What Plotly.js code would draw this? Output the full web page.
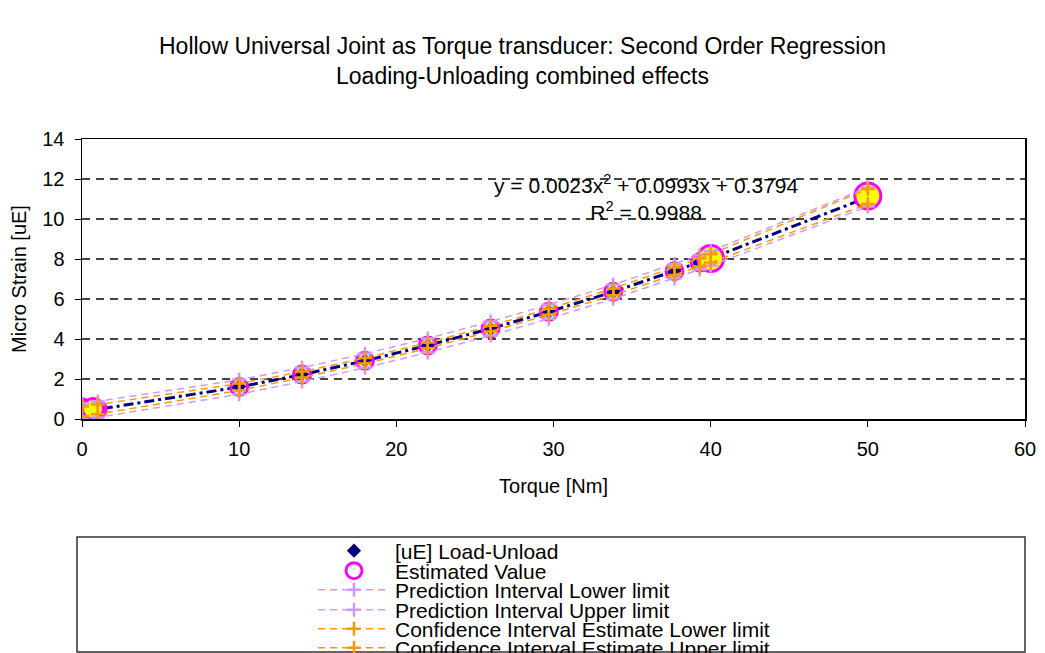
<!DOCTYPE html>
<html>
<head>
<meta charset="utf-8">
<script src="https://cdn.plot.ly/plotly-3.0.1.min.js"></script>
<style>html,body{margin:0;padding:0;background:#fff;}#chart{width:1045px;height:653px;}</style>
</head>
<body>
<div id="chart"></div>
<script>
// Torque [Nm]
const torque = [0, 1.0, 10, 14, 18, 22, 26, 29.7, 33.8, 37.7, 39.3, 40, 50];
// [uE] Load-Unload (measured)
const strain = [0.40, 0.47, 1.62, 2.24, 2.92, 3.68, 4.50, 5.36, 6.35, 7.38, 7.85, 8.02, 11.15];
// Estimated Value
const estimated = [0.38, 0.48, 1.60, 2.22, 2.91, 3.68, 4.52, 5.36, 6.36, 7.39, 7.83, 8.03, 11.09];
// Prediction interval
const piLower = [-0.02, 0.08, 1.24, 1.87, 2.56, 3.33, 4.17, 5.01, 6.01, 7.03, 7.47, 7.67, 10.62];
const piUpper = [0.78, 0.88, 1.96, 2.57, 3.26, 4.03, 4.87, 5.71, 6.71, 7.75, 8.19, 8.39, 11.58];
// Confidence interval estimate
const ciLower = [0.13, 0.24, 1.43, 2.07, 2.77, 3.54, 4.38, 5.21, 6.19, 7.20, 7.63, 7.82, 10.75];
const ciUpper = [0.63, 0.72, 1.77, 2.37, 3.05, 3.82, 4.66, 5.51, 6.53, 7.58, 8.03, 8.24, 11.50];
// highlighted points (yellow)
const hlSmallX = [0, 0.7];
const hlSmallY = [0.48, 0.5];
const hlBigX = [40, 50];
const hlBigY = [8.02, 11.15];

const names = ['[uE] Load-Unload', 'Estimated Value', 'Prediction Interval Lower limit',
  'Prediction Interval Upper limit', 'Confidence Interval Estimate Lower limit',
  'Confidence Interval Estimate Upper limit'];
const titleText = 'Hollow Universal Joint as Torque transducer: Second Order Regression<br>Loading-Unloading combined effects';
const eqText = 'y = 0.0023x<sup>2</sup> + 0.0993x + 0.3794<br>R<sup>2</sup> = 0.9988';

const FONT = 'Liberation Sans, Arial, sans-serif';
const PURPLE = '#CC99FF';
const ORANGE = '#FF9900';

const crossPI = {symbol: 'cross-thin', size: 10, line: {color: PURPLE, width: 2.5}, color: PURPLE};
const crossCI = {symbol: 'cross-thin', size: 10, line: {color: ORANGE, width: 2.5}, color: ORANGE};

const traces = [
  {x: torque, y: estimated, mode: 'lines', line: {color: '#000080', width: 3, dash: '10px,4px,3px,4px'}, showlegend: false, hoverinfo: 'skip'},
  {x: torque, y: strain, mode: 'markers', name: names[0], legend: 'legend',
    marker: {symbol: 'diamond', size: 11, color: '#000080'}},
  {x: torque, y: estimated, mode: 'markers', name: names[1], legend: 'legend2',
    marker: {symbol: 'circle-open', size: 17, color: '#FF00FF', line: {width: 3}}},
  {x: hlSmallX, y: hlSmallY, mode: 'markers', showlegend: false, hoverinfo: 'skip',
    marker: {symbol: 'circle', size: 21, color: '#FFFF00', line: {color: '#FF00FF', width: 3}}},
  {x: hlBigX, y: hlBigY, mode: 'markers', showlegend: false, hoverinfo: 'skip',
    marker: {symbol: 'circle', size: 26, color: '#FFFF00', line: {color: '#FF00FF', width: 3}}},
  {x: torque, y: piLower, mode: 'lines+markers', name: names[2], legend: 'legend3',
    line: {color: PURPLE, width: 1.5, dash: '7px,5px'}, marker: crossPI},
  {x: torque, y: piUpper, mode: 'lines+markers', name: names[3], legend: 'legend4',
    line: {color: PURPLE, width: 1.5, dash: '7px,5px'}, marker: crossPI},
  {x: torque, y: ciLower, mode: 'lines+markers', name: names[4], legend: 'legend5',
    line: {color: ORANGE, width: 1.5, dash: '7px,5px'}, marker: crossCI},
  {x: torque, y: ciUpper, mode: 'lines+markers', name: names[5], legend: 'legend6',
    line: {color: ORANGE, width: 1.5, dash: '7px,5px'}, marker: crossCI}
];

function leg(ypx) {
  return {x: (313 - 82) / 943, xanchor: 'left', y: (419 - ypx) / 280, yanchor: 'middle',
    font: {family: FONT, size: 21, color: '#000'}, bgcolor: 'rgba(0,0,0,0)', borderwidth: 0,
    itemwidth: 72, orientation: 'v'};
}

const layout = {
  width: 1045, height: 653,
  margin: {l: 82, r: 20, t: 139, b: 234, autoexpand: false},
  paper_bgcolor: '#fff', plot_bgcolor: '#fff',
  font: {family: FONT, color: '#000'},
  title: {text: titleText, font: {family: FONT, size: 23, color: '#000'}, x: 0.5, xanchor: 'center', y: 1 - 54 / 653, yanchor: 'middle'},
  xaxis: {
    range: [0, 60], tickvals: [0, 10, 20, 30, 40, 50, 60], ticks: 'outside', ticklen: 6, tickwidth: 1, tickcolor: '#000',
    showline: true, linecolor: '#000', linewidth: 1.5, mirror: true, showgrid: false, zeroline: false,
    tickfont: {family: FONT, size: 20}, ticklabelstandoff: 5,
    title: {text: 'Torque [Nm]', font: {family: FONT, size: 20}, standoff: 20}
  },
  yaxis: {
    range: [0, 14], tickvals: [0, 2, 4, 6, 8, 10, 12, 14], ticks: 'outside', ticklen: 6, tickwidth: 1, tickcolor: '#000',
    showline: true, linecolor: '#000', linewidth: 1.5, mirror: true,
    showgrid: true, gridcolor: '#444', gridwidth: 1.5, griddash: '8px,6px', zeroline: false,
    tickfont: {family: FONT, size: 20}, ticklabelstandoff: 6,
    title: {text: 'Micro Strain [uE]', font: {family: FONT, size: 20}, standoff: 10}
  },
  legend: leg(551), legend2: leg(571), legend3: leg(590), legend4: leg(610), legend5: leg(629), legend6: leg(648),
  shapes: [{type: 'rect', xref: 'paper', yref: 'paper', x0: (77 - 82) / 943, x1: 1.0,
    y0: (419 - 537) / 280, y1: (419 - 652) / 280, line: {color: '#333', width: 1.5}, fillcolor: 'rgba(0,0,0,0)', layer: 'below'}],
  annotations: [{x: 35.9, y: 11.1, xref: 'x', yref: 'y', text: eqText, showarrow: false,
    font: {family: FONT, size: 21, color: '#000'}, align: 'center'}]
};

Plotly.newPlot('chart', traces, layout, {displayModeBar: false, staticPlot: true});
</script>
</body>
</html>
